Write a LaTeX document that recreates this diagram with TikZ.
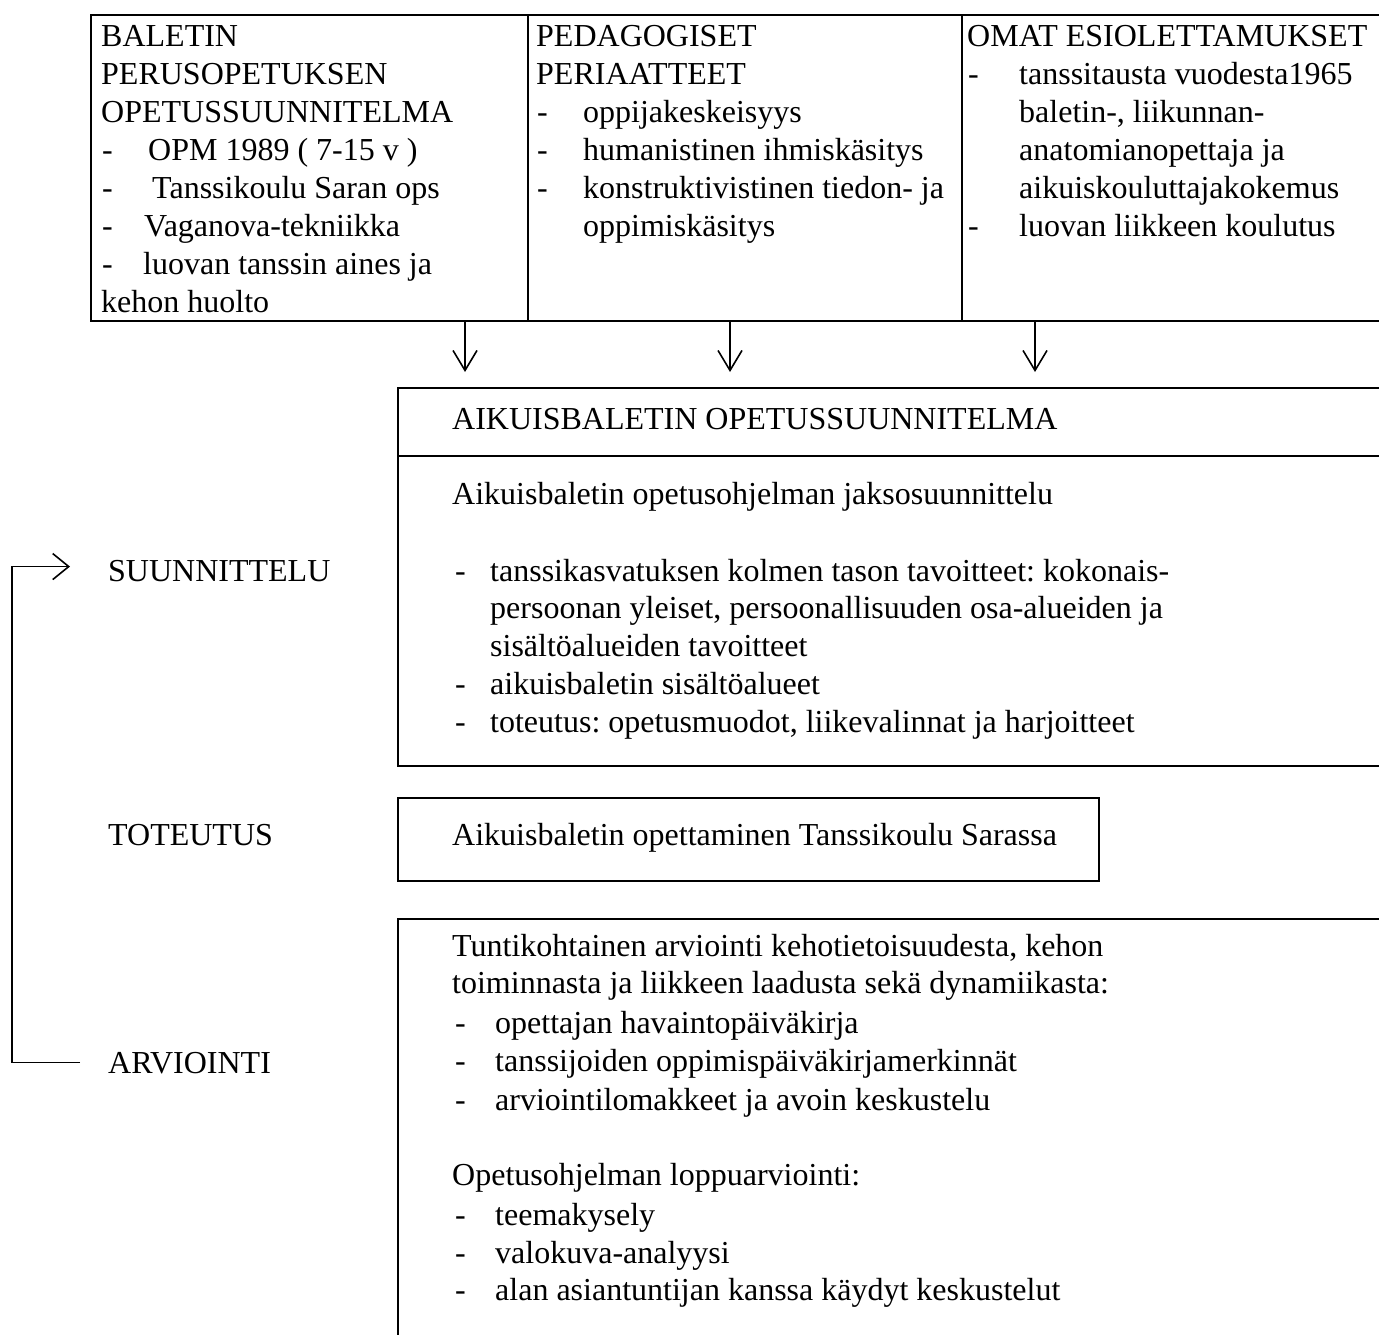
\documentclass[tikz,border=0pt]{standalone}
\usepackage{fontspec}
\setmainfont{Liberation Serif}
\usetikzlibrary{arrows.meta}
\frenchspacing
\begin{document}
\begin{tikzpicture}[x=1pt,y=-1pt,
  box/.style={draw, line width=1.6pt, inner sep=0pt, anchor=north west},
  txt/.style={anchor=base west, inner sep=0pt, font=\fontsize{32}{38}\selectfont},
  downarr/.style={line width=1.6pt, -{Straight Barb[length=20pt,width=24pt,line width=1.6pt]}},
  looparr/.style={line width=1.6pt, -{Straight Barb[length=16pt,width=26pt,line width=1.6pt]}}]
\useasboundingbox (0,0) rectangle (1379,1334);
\fill[white] (0,0) rectangle (1379,1334);
% top boxes
\node[box, minimum width=437pt, minimum height=306pt] (b1) at (90,14) {};
\node[box, minimum width=434pt, minimum height=306pt] (b2) at (527,14) {};
\node[box, minimum width=440pt, minimum height=306pt] (b3) at (961,14) {};
% box 1 text
\node[txt] (t11) at (101,46) {BALETIN};
\node[txt] (t12) at (101,84) {PERUSOPETUKSEN};
\node[txt] (t13) at (101,122) {OPETUSSUUNNITELMA};
\node[txt] (d14) at (102,160) {-};
\node[txt] (t14) at (148,160) {OPM 1989 ( 7-15 v )};
\node[txt] (d15) at (102,198) {-};
\node[txt] (t15) at (152,198) {Tanssikoulu Saran ops};
\node[txt] (d16) at (102,236) {-};
\node[txt] (t16) at (144,236) {Vaganova-tekniikka};
\node[txt] (d17) at (102,274) {-};
\node[txt] (t17) at (143,274) {luovan tanssin aines ja};
\node[txt] (t18) at (101,312) {kehon huolto};
% box 2 text
\node[txt] (t21) at (536,46) {PEDAGOGISET};
\node[txt] (t22) at (536,84) {PERIAATTEET};
\node[txt] (d23) at (537,122) {-};
\node[txt] (t23) at (583,122) {oppijakeskeisyys};
\node[txt] (d24) at (537,160) {-};
\node[txt] (t24) at (583,160) {humanistinen ihmiskäsitys};
\node[txt] (d25) at (537,198) {-};
\node[txt] (t25) at (583,198) {konstruktivistinen tiedon- ja};
\node[txt] (t26) at (583,236) {oppimiskäsitys};
% box 3 text
\node[txt] (t31) at (967,46) {OMAT ESIOLETTAMUKSET};
\node[txt] (d32) at (968,84) {-};
\node[txt] (t32) at (1019,84) {tanssitausta vuodesta1965};
\node[txt] (t33) at (1019,122) {baletin-, liikunnan-};
\node[txt] (t34) at (1019,160) {anatomianopettaja ja};
\node[txt] (t35) at (1019,198) {aikuiskouluttajakokemus};
\node[txt] (d36) at (968,236) {-};
\node[txt] (t36) at (1019,236) {luovan liikkeen koulutus};
% arrows down
\coordinate (a1) at (465,372);
\coordinate (a2) at (730,372);
\coordinate (a3) at (1035,372);
\draw[downarr] (a1 |- b1.south) -- (a1);
\draw[downarr] (a2 |- b2.south) -- (a2);
\draw[downarr] (a3 |- b3.south) -- (a3);
% main plan box
\node[box, minimum width=1010pt, minimum height=68pt] (mh) at (397,387) {};
\node[box, minimum width=1010pt, minimum height=310pt] (mc) at (397,455) {};
\node[txt] (mh1) at (452,429) {AIKUISBALETIN OPETUSSUUNNITELMA};
\node[txt] (mc1) at (452,504) {Aikuisbaletin opetusohjelman jaksosuunnittelu};
\node[txt] (dm2) at (455,581) {-};
\node[txt] (mc2) at (490,581) {tanssikasvatuksen kolmen tason tavoitteet: kokonais-};
\node[txt] (mc3) at (490,618) {persoonan yleiset, persoonallisuuden osa-alueiden ja};
\node[txt] (mc4) at (490,656) {sisältöalueiden tavoitteet};
\node[txt] (dm5) at (455,694) {-};
\node[txt] (mc5) at (490,694) {aikuisbaletin sisältöalueet};
\node[txt] (dm6) at (455,732) {-};
\node[txt] (mc6) at (490,732) {toteutus: opetusmuodot, liikevalinnat ja harjoitteet};
% toteutus box
\node[box, minimum width=701pt, minimum height=83pt] (tb) at (397,797) {};
\node[txt] (tb1) at (452,845) {Aikuisbaletin opettaminen Tanssikoulu Sarassa};
% evaluation box
\node[box, minimum width=1010pt, minimum height=500pt] (eb) at (397,918) {};
\node[txt] (e1) at (452,956) {Tuntikohtainen arviointi kehotietoisuudesta, kehon};
\node[txt] (e2) at (452,993) {toiminnasta ja liikkeen laadusta sekä dynamiikasta:};
\node[txt] (de3) at (455,1033) {-};
\node[txt] (e3) at (495,1033) {opettajan havaintopäiväkirja};
\node[txt] (de4) at (455,1071) {-};
\node[txt] (e4) at (495,1071) {tanssijoiden oppimispäiväkirjamerkinnät};
\node[txt] (de5) at (455,1110) {-};
\node[txt] (e5) at (495,1110) {arviointilomakkeet ja avoin keskustelu};
\node[txt] (e6) at (452,1185) {Opetusohjelman loppuarviointi:};
\node[txt] (de7) at (455,1225) {-};
\node[txt] (e7) at (495,1225) {teemakysely};
\node[txt] (de8) at (455,1263) {-};
\node[txt] (e8) at (495,1263) {valokuva-analyysi};
\node[txt] (de9) at (455,1300) {-};
\node[txt] (e9) at (495,1300) {alan asiantuntijan kanssa käydyt keskustelut};
% left labels
\node[txt] (suun) at (108,581) {SUUNNITTELU};
\node[txt] (tot) at (108,845) {TOTEUTUS};
\node[txt] (arv) at (108,1073) {ARVIOINTI};
\coordinate (lc) at (12,0);
\draw[looparr] ([xshift=-28pt]arv.west) -- (lc |- arv.west) |- ([xshift=-38pt,yshift=4pt]suun.west);
\end{tikzpicture}
\end{document}
